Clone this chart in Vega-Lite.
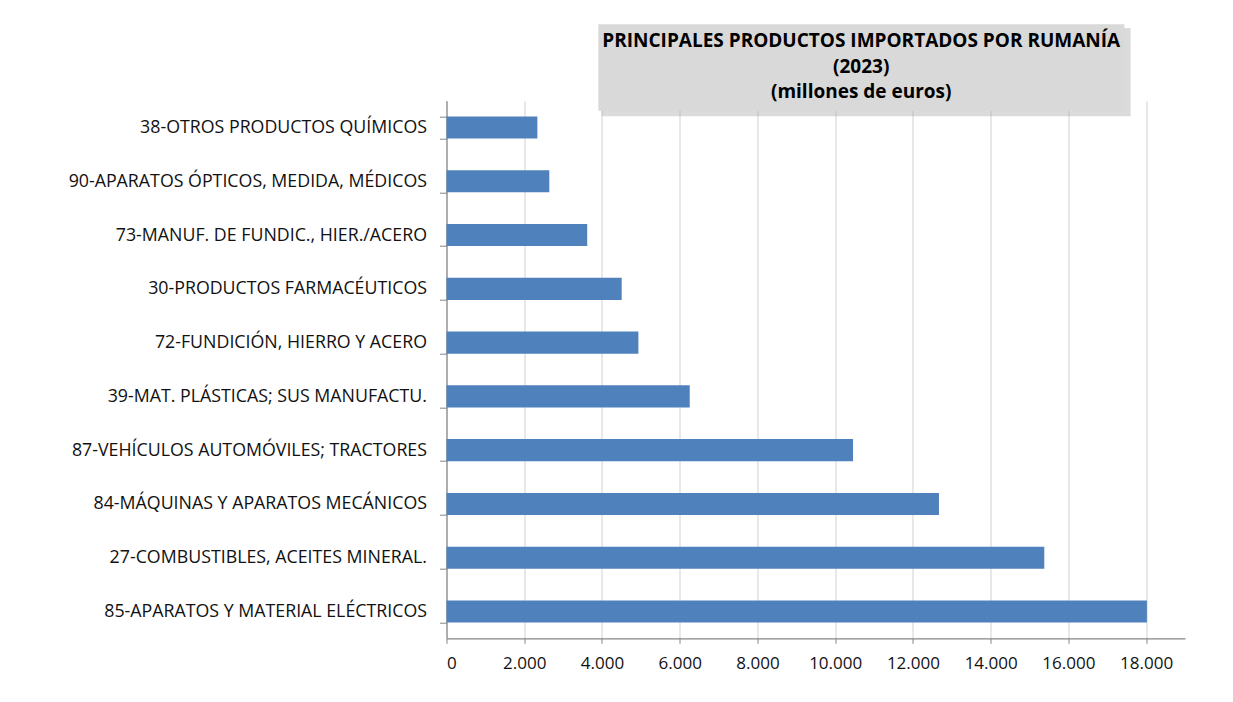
{
  "$schema": "https://vega.github.io/schema/vega-lite/v6.json",
  "autosize": "none",
  "width": 738.5,
  "height": 537.6,
  "padding": {"left": 446.5, "top": 100.7, "right": 48, "bottom": 63.7},
  "background": "white",
  "config": {
    "locale": {"number": {"decimal": ",", "thousands": ".", "grouping": [3], "currency": ["", " €"]}},
    "view": {"stroke": null},
    "font": "Open Sans"
  },
  "resolve": {"scale": {"y": "independent"}, "axis": {"y": "independent"}},
  "layer": [
    {
      "data": {"values": [
        {"producto": "38-OTROS PRODUCTOS QUÍMICOS", "valor": 2338},
        {"producto": "90-APARATOS ÓPTICOS, MEDIDA, MÉDICOS", "valor": 2645},
        {"producto": "73-MANUF. DE FUNDIC., HIER./ACERO", "valor": 3620},
        {"producto": "30-PRODUCTOS FARMACÉUTICOS", "valor": 4507},
        {"producto": "72-FUNDICIÓN, HIERRO Y ACERO", "valor": 4937},
        {"producto": "39-MAT. PLÁSTICAS; SUS MANUFACTU.", "valor": 6258},
        {"producto": "87-VEHÍCULOS AUTOMÓVILES; TRACTORES", "valor": 10460},
        {"producto": "84-MÁQUINAS Y APARATOS MECÁNICOS", "valor": 12670},
        {"producto": "27-COMBUSTIBLES, ACEITES MINERAL.", "valor": 15380},
        {"producto": "85-APARATOS Y MATERIAL ELÉCTRICOS", "valor": 18020}
      ]},
      "mark": {"type": "bar", "color": "#4f81bd"},
      "encoding": {
        "y": {
          "field": "producto", "type": "nominal", "sort": "x",
          "scale": {"paddingInner": 0.59, "paddingOuter": 0.295},
          "axis": {
            "title": null, "tickBand": "extent", "ticks": true, "tickSize": 7,
            "tickColor": "#868686", "domainColor": "#868686", "domainWidth": 1.2,
            "labelPadding": 13, "labelFontSize": 17.8, "labelFont": "Open Sans",
            "labelColor": "#111111", "labelLimit": 440, "grid": false
          }
        },
        "x": {
          "field": "valor", "type": "quantitative",
          "scale": {"domain": [0, 19000], "nice": false},
          "axis": {
            "title": null, "values": [0, 2000, 4000, 6000, 8000, 10000, 12000, 14000, 16000, 18000],
            "format": ",d", "grid": true, "gridColor": "#d9d9d9", "gridWidth": 1.2,
            "tickSize": 5, "tickColor": "#868686", "domainColor": "#868686", "domainWidth": 1.2,
            "labelFontSize": 17, "labelFont": "Open Sans", "labelColor": "#111111", "labelPadding": 12
          }
        }
      }
    },
    {
      "data": {"values": [{"titulo": ["PRINCIPALES PRODUCTOS IMPORTADOS POR RUMANÍA", "(2023)", "(millones de euros)"]}]},
      "layer": [
        {
          "mark": {"type": "rect", "color": "#b0b0b0", "opacity": 0.45, "clip": false},
          "encoding": {
            "x": {"datum": 3990}, "x2": {"datum": 17600},
            "y": {"datum": 1.1354, "type": "quantitative", "scale": {"domain": [0, 1], "nice": false, "zero": false}, "axis": null},
            "y2": {"datum": 0.971}
          }
        },
        {
          "mark": {"type": "rect", "color": "#d9d9d9", "clip": false},
          "encoding": {
            "x": {"datum": 3906}, "x2": {"datum": 17440},
            "y": {"datum": 1.1421, "type": "quantitative"},
            "y2": {"datum": 0.9814}
          }
        },
        {
          "mark": {"type": "text", "font": "Open Sans", "fontWeight": "bold", "fontSize": 19, "lineHeight": 25.5, "align": "center", "baseline": "alphabetic", "color": "#000000", "clip": false},
          "encoding": {
            "x": {"datum": 10670},
            "y": {"datum": 1.0993, "type": "quantitative"},
            "text": {"field": "titulo"}
          }
        }
      ]
    }
  ]
}
